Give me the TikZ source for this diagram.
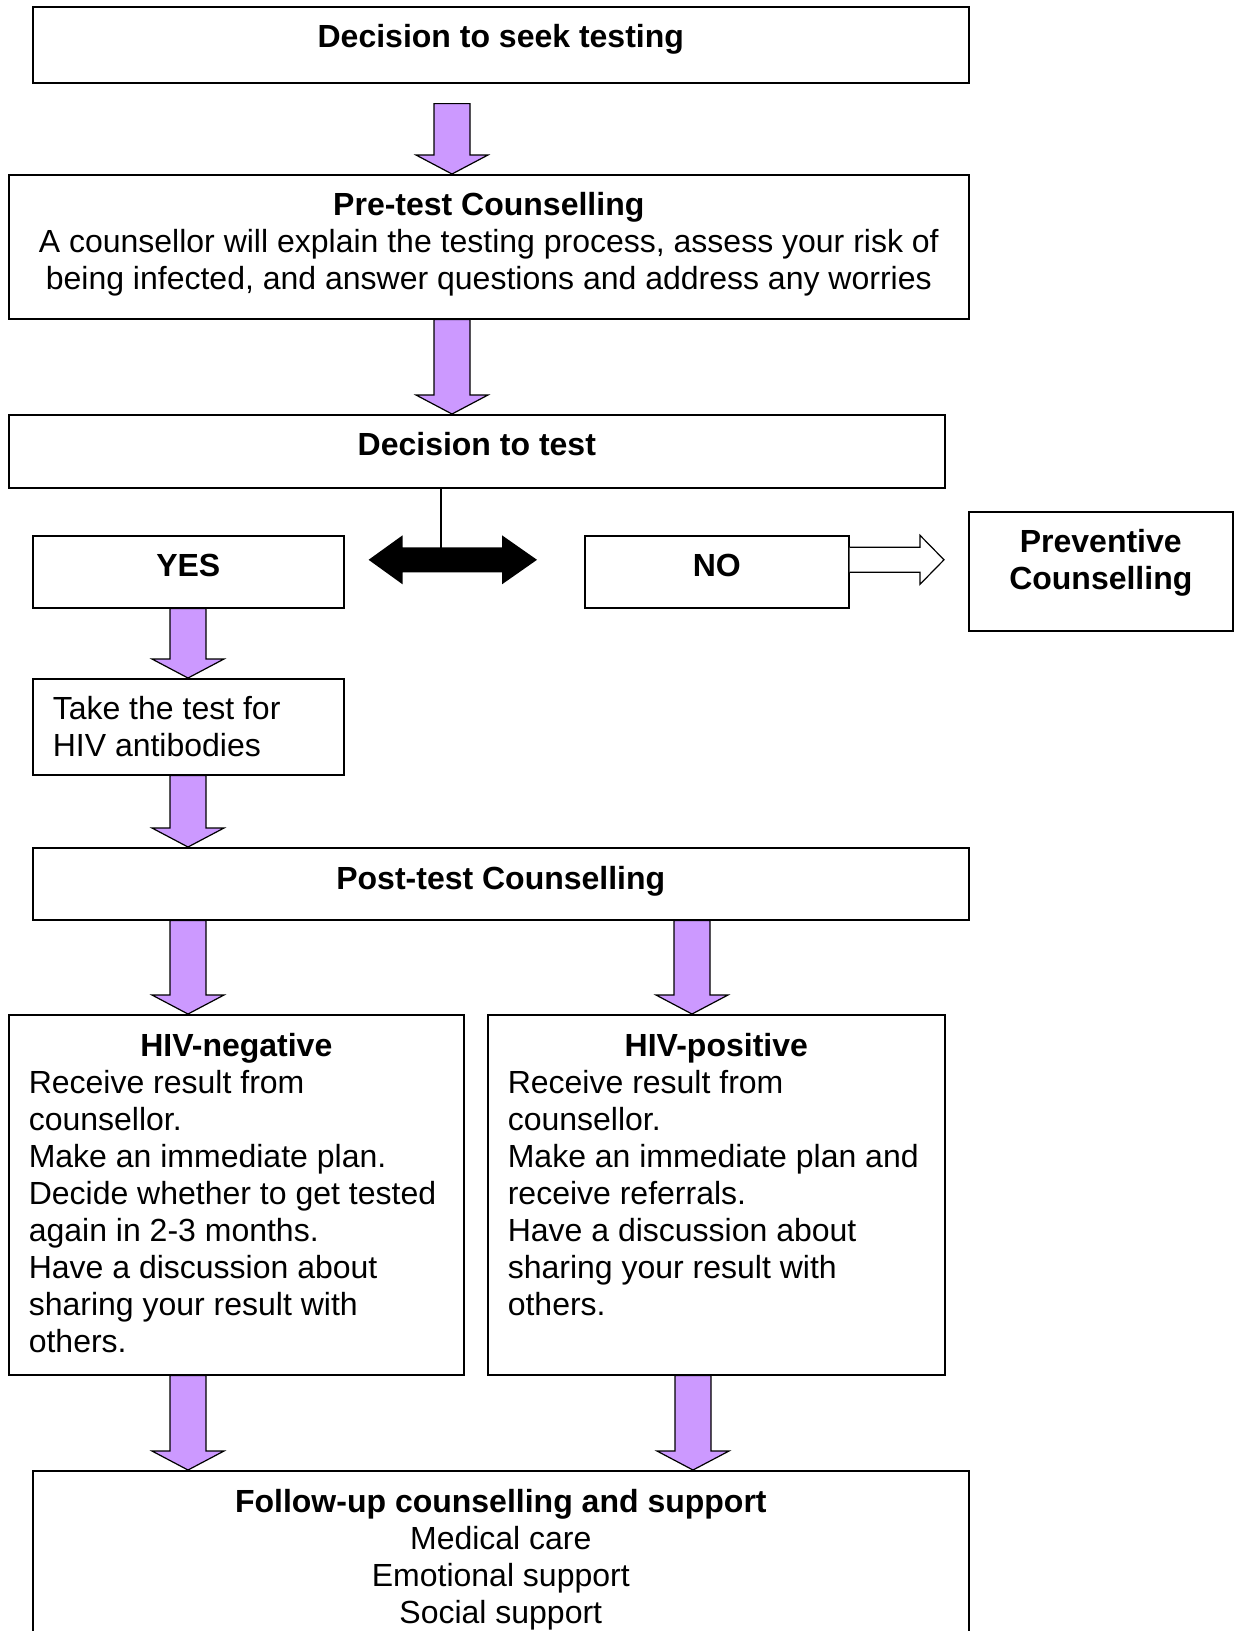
\documentclass[tikz,border=0pt]{standalone}
\usepackage{fontspec}
\setmainfont{Liberation Sans}
\usetikzlibrary{calc}
\definecolor{lilac}{HTML}{CC99FF}
\tikzset{
box/.style={
  draw,
  line width=1.6pt,
  inner xsep=20pt,
  inner ysep=0pt,
  anchor=north west,
  font=\fontsize{32}{37}\selectfont
  },
fat/.style={
  draw,
  line width=1.2pt,
  fill=lilac
  }
}
% text block of a box: width, height, contents
\newcommand{\boxtext}[3]{\parbox[t][#2][t]{\dimexpr#1-40pt\relax}{\vspace*{18pt}#3}}
% block arrow pointing down: x, from, to
\newcommand{\fatdown}[3]{%
\draw[fat] let \p1=(#2), \p2=(#3) in
  (#1pt-18pt,\y1) -- (#1pt-18pt,\y2+19pt) -- (#1pt-36pt,\y2+19pt) -- (#1pt,\y2)
  -- (#1pt+36pt,\y2+19pt) -- (#1pt+18pt,\y2+19pt) -- (#1pt+18pt,\y1) -- cycle;}

\begin{document}
\begin{tikzpicture}[x=1pt, y=-1pt]
\useasboundingbox (0,0) rectangle (1235,1631);

\node[box] (seek) at (32,6)
  {\boxtext{936pt}{76pt}{\centering\bfseries Decision to seek testing}};
\node[box] (pretest) at (8,174)
  {\boxtext{960pt}{144pt}{\centering{\bfseries Pre-test Counselling}\\
  A counsellor will explain the testing process, assess your risk of\\
  being infected, and answer questions and address any worries}};
\node[box] (dtest) at (8,414)
  {\boxtext{936pt}{73pt}{\centering\bfseries Decision to test}};
\node[box] (yes) at (32,535)
  {\boxtext{311pt}{72pt}{\centering\bfseries YES}};
\node[box] (no) at (584,535)
  {\boxtext{264pt}{72pt}{\centering\bfseries NO}};
\node[box] (prevent) at (968,511)
  {\boxtext{264pt}{119pt}{\centering\bfseries Preventive\\Counselling}};
\node[box] (take) at (32,678)
  {\boxtext{311pt}{96pt}{\raggedright Take the test for\\HIV antibodies}};
\node[box] (posttest) at (32,847)
  {\boxtext{936pt}{72pt}{\centering\bfseries Post-test Counselling}};
\node[box] (neg) at (8,1014)
  {\boxtext{455pt}{360pt}{{\centering\bfseries HIV-negative\par}
  \raggedright Receive result from\\counsellor.\\Make an immediate plan.\\
  Decide whether to get tested\\again in 2-3 months.\\
  Have a discussion about\\sharing your result with\\others.}};
\node[box] (pos) at (487,1014)
  {\boxtext{457pt}{360pt}{{\centering\bfseries HIV-positive\par}
  \raggedright Receive result from\\counsellor.\\
  Make an immediate plan and\\receive referrals.\\
  Have a discussion about\\sharing your result with\\others.}};
\node[box] (follow) at (32,1470)
  {\boxtext{936pt}{220pt}{\centering{\bfseries Follow-up counselling and support}\\
  Medical care\\Emotional support\\Social support}};

% purple arrows
\coordinate (gap) at ($(seek.south)+(0,20)$);
\fatdown{452}{gap}{pretest.north}
\fatdown{452}{pretest.south}{dtest.north}
\fatdown{188}{yes.south}{take.north}
\fatdown{188}{take.south}{posttest.north}
\fatdown{188}{posttest.south}{neg.north}
\fatdown{692}{posttest.south}{pos.north}
\fatdown{188}{neg.south}{follow.north}
\fatdown{693}{pos.south}{follow.north}

% yes / no split
\coordinate (dl) at ($(yes.east)+(24,-12)$);
\coordinate (dr) at ($(no.west)+(-47,-12)$);
\fill (dl) -- ++(34,-24.5) -- ++(0,12) -- ($(dr)+(-35,-12.5)$) -- ++(0,-12) -- (dr)
  -- ++(-35,24.5) -- ++(0,-12) -- ($(dl)+(34,12.5)$) -- ++(0,12) -- cycle;
\coordinate (split) at ($(dl)!0.43!(dr)$);
\draw[line width=1.2pt] (split) -- (split |- dtest.south);

\coordinate (ns) at ($(no.east)+(0,-12)$);
\coordinate (nt) at ($(prevent.west)+(-24,-11.5)$);
\draw[line width=1.2pt, fill=white] ($(ns)+(0,-12.5)$) -- ($(nt)+(-24,-12.5)$) -- ++(0,-12)
  -- (nt) -- ++(-24,24.5) -- ++(0,-12) -- ($(ns)+(0,12.5)$);
\end{tikzpicture}
\end{document}
